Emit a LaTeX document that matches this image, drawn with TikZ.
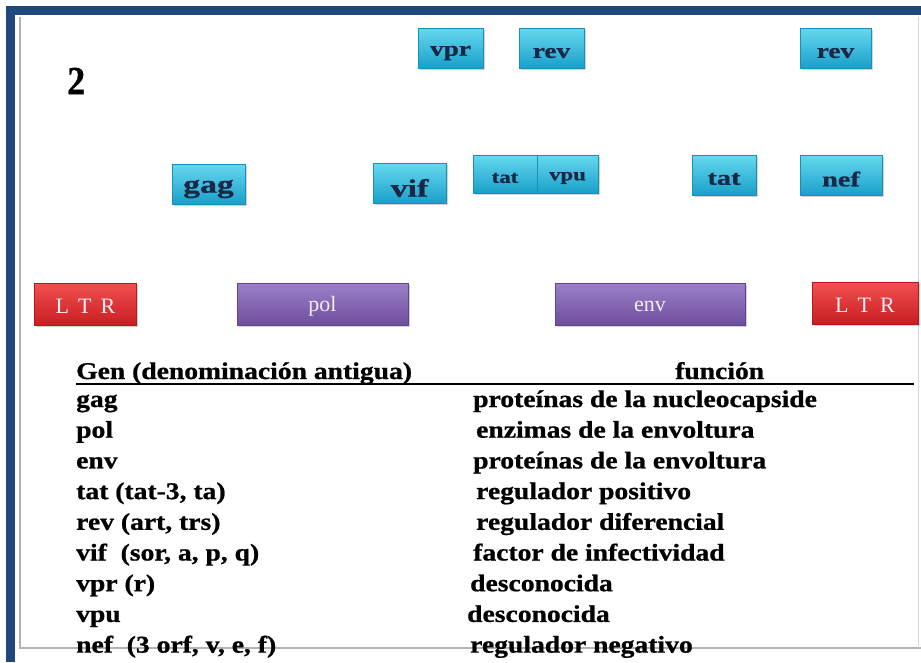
\documentclass[tikz,border=0pt]{standalone}
\usepackage{fontspec}
\setmainfont{Liberation Serif}
\newfontfamily\heavyserif[FakeBold=0.8]{Liberation Serif Bold}
\usepackage{graphicx}
\usetikzlibrary{shadows}
\definecolor{frameblue}{HTML}{1F497D}
\definecolor{cyantop}{HTML}{66D8EF}
\definecolor{cyanbot}{HTML}{1AA0CA}
\definecolor{cyanedge}{HTML}{1A8FB5}
\definecolor{cyantext}{HTML}{1A2848}
\definecolor{purtop}{HTML}{9C80C8}
\definecolor{purbot}{HTML}{6E4E9E}
\definecolor{puredge}{HTML}{5E4290}
\definecolor{redtop}{HTML}{F25050}
\definecolor{redbot}{HTML}{C81E22}
\definecolor{rededge}{HTML}{B01A1E}
\definecolor{boxtextlight}{HTML}{F4ECF2}
\newcommand{\hs}[1]{\scalebox{1.15}[1]{#1}}
\newcommand{\bx}[3][-2pt]{\raisebox{#1}[\height][\depth]{\scalebox{#2}[1]{#3}}}
\tikzset{
  genebox/.style={draw=cyanedge, line width=0.6pt, top color=cyantop, bottom color=cyanbot,
    text=cyantext, font=\heavyserif\fontsize{21}{23}\selectfont, inner sep=0pt,
    drop shadow={shadow xshift=1.5pt, shadow yshift=-2pt, opacity=0.35}},
  bigbox/.style={genebox, font=\heavyserif\fontsize{25}{27}\selectfont},
  smallbox/.style={genebox, font=\heavyserif\fontsize{17.5}{19}\selectfont},
  polbox/.style={draw=puredge, line width=0.6pt, top color=purtop, bottom color=purbot,
    text=boxtextlight, font=\fontsize{22}{24}\selectfont, inner sep=0pt,
    minimum height=42pt,
    drop shadow={shadow xshift=1.5pt, shadow yshift=-2pt, opacity=0.35}},
  ltrbox/.style={draw=rededge, line width=0.6pt, top color=redtop, bottom color=redbot,
    text=boxtextlight, font=\fontsize{22}{24}\selectfont, inner sep=0pt,
    minimum height=42pt,
    drop shadow={shadow xshift=1.5pt, shadow yshift=-2pt, opacity=0.35}},
  rowtext/.style={anchor=base west, inner sep=0pt, font=\heavyserif\fontsize{24}{26}\selectfont},
}
\begin{document}
\begin{tikzpicture}[x=1pt,y=-1pt]
\useasboundingbox (0,0) rectangle (921,662);
\fill[white] (0,0) rectangle (921,662);
% frame
\fill[frameblue] (6,6) rectangle (921,15);
\fill[frameblue] (6,6) rectangle (15,662);
\draw[gray!60, line width=1.5pt] (20,17) -- (20,648) -- (921,648);
\draw[gray!30, line width=1pt] (918,17) -- (918,648);
% number
\node[anchor=west, inner sep=0pt, font=\heavyserif\fontsize{40}{42}\selectfont] (num) at (67,81) {\scalebox{0.9}[1]{2}};
% top gene boxes
\node[genebox, minimum width=65pt, minimum height=40pt] (vpr) at (450.5,48) {\bx[-5pt]{1.3}{vpr}};
\node[genebox, minimum width=65pt, minimum height=40pt] (rev1) at (551.5,48) {\bx[-5pt]{1.3}{rev}};
\node[genebox, minimum width=71pt, minimum height=40pt] (rev2) at (835.5,48) {\bx[-5pt]{1.3}{rev}};
% middle row
\node[bigbox, minimum width=73pt, minimum height=40pt] (gag) at (208.5,184) {\bx[-5pt]{1.35}{gag}};
\node[bigbox, minimum width=73pt, minimum height=40pt] (vif) at (409.5,183) {\bx[-5pt]{1.35}{vif}};
\node[smallbox, minimum width=64pt, minimum height=38pt] (tat1) at (505,174) {\bx[-4pt]{1.3}{tat}};
\node[smallbox, minimum width=61pt, minimum height=38pt] (vpu) at (567.5,174) {\bx[-4pt]{1.3}{vpu}};
\node[genebox, minimum width=64pt, minimum height=40pt] (tat2) at (724,175) {\bx[-4pt]{1.35}{tat}};
\node[genebox, minimum width=82pt, minimum height=40pt] (nef) at (841,175) {\bx[-4pt]{1.35}{nef}};
% bottom row
\node[ltrbox, minimum width=102pt] (ltr1) at (85.5,304) {\bx{1}{L\hspace{9pt}T\hspace{9pt}R}};
\node[polbox, minimum width=171pt] (pol) at (322.5,304) {\bx{1}{pol}};
\node[polbox, minimum width=190pt] (env) at (650,304) {\bx{1}{env}};
\node[ltrbox, minimum width=106pt] (ltr2) at (865,303) {\bx{1}{L\hspace{9pt}T\hspace{9pt}R}};
% table header
\node[rowtext] (h1) at (76,379) {\hs{Gen (denominación antigua)}};
\node[rowtext] (h2) at (675,379) {\hs{función}};
\draw[line width=1.6pt] (76,384) -- (914,384);
% rows
\node[rowtext] (g1) at (76,407) {\hs{gag}};
\node[rowtext] (g2) at (76,437.7) {\hs{pol}};
\node[rowtext] (g3) at (76,468.4) {\hs{env}};
\node[rowtext] (g4) at (76,499.1) {\hs{tat (tat-3, ta)}};
\node[rowtext] (g5) at (76,529.8) {\hs{rev (art, trs)}};
\node[rowtext] (g6) at (76,560.5) {\hs{vif\ \ (sor, a, p, q)}};
\node[rowtext] (g7) at (76,591.2) {\hs{vpr (r)}};
\node[rowtext] (g8) at (76,621.9) {\hs{vpu}};
\node[rowtext] (g9) at (76,652.6) {\hs{nef\ \ (3 orf, v, e, f)}};
\node[rowtext] (f1) at (473,407) {\hs{proteínas de la nucleocapside}};
\node[rowtext] (f2) at (476,437.7) {\hs{enzimas de la envoltura}};
\node[rowtext] (f3) at (473,468.4) {\hs{proteínas de la envoltura}};
\node[rowtext] (f4) at (476,499.1) {\hs{regulador positivo}};
\node[rowtext] (f5) at (476,529.8) {\hs{regulador diferencial}};
\node[rowtext] (f6) at (473,560.5) {\hs{factor de infectividad}};
\node[rowtext] (f7) at (470,591.2) {\hs{desconocida}};
\node[rowtext] (f8) at (467,621.9) {\hs{desconocida}};
\node[rowtext] (f9) at (470,652.6) {\hs{regulador negativo}};
\end{tikzpicture}
\end{document}
